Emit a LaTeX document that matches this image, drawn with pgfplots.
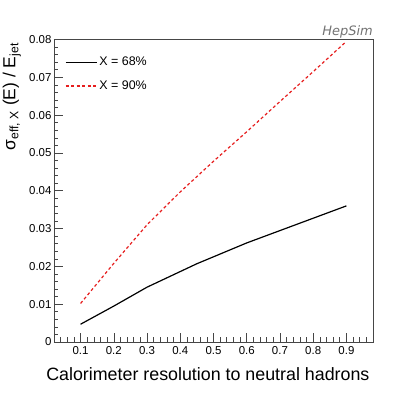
\documentclass[border=0pt]{standalone}
\usepackage{fontspec}
\setmainfont{Liberation Sans}
\newfontfamily\hepfont{DejaVu Sans}
\usepackage{pgfplots}
\pgfplotsset{compat=1.18}
\definecolor{rootred}{RGB}{230,30,30}
\definecolor{framegray}{RGB}{70,70,70}
\begin{document}
\begin{tikzpicture}
\useasboundingbox (-54bp,-51.3bp) rectangle (361bp,342bp);
\begin{axis}[
  scale only axis, width=319bp, height=302.5bp,
  at={(0,0)}, anchor=south west,
  xmin=0.02, xmax=0.98, ymin=0, ymax=0.08,
  clip=false,
  scaled y ticks=false, scaled x ticks=false,
  axis line style={framegray, line width=0.8pt},
  xtick={0.1,0.2,0.3,0.4,0.5,0.6,0.7,0.8,0.9},
  xticklabels={0.1,0.2,0.3,0.4,0.5,0.6,0.7,0.8,0.9},
  minor xtick={0.04,0.06,0.08,0.12,0.14,0.16,0.18,0.22,0.24,0.26,0.28,0.32,0.34,0.36,0.38,0.42,0.44,0.46,0.48,0.52,0.54,0.56,0.58,0.62,0.64,0.66,0.68,0.72,0.74,0.76,0.78,0.82,0.84,0.86,0.88,0.92,0.94,0.96},
  ytick={0,0.01,0.02,0.03,0.04,0.05,0.06,0.07,0.08},
  yticklabels={0,0.01,0.02,0.03,0.04,0.05,0.06,0.07,0.08},
  minor ytick={0.002,0.004,0.006,0.008,0.012,0.014,0.016,0.018,0.022,0.024,0.026,0.028,0.032,0.034,0.036,0.038,0.042,0.044,0.046,0.048,0.052,0.054,0.056,0.058,0.062,0.064,0.066,0.068,0.072,0.074,0.076,0.078},
  xtick pos=bottom, ytick pos=left,
  tick align=inside,
  major tick length=9bp, minor tick length=4.5bp,
  every tick/.style={framegray, line width=0.6pt},
  ticklabel style={font=\fontsize{11.5}{13}\selectfont},
  xticklabel style={yshift=-1bp},
  yticklabel style={xshift=1bp},
  /pgf/number format/assume math mode=true,
  legend style={draw=none, fill=none, at={(rel axis cs:0,1)}, anchor=north west,
    xshift=8bp, yshift=-13.5bp, font=\fontsize{12.5}{14}\selectfont, row sep=9.5bp},
  legend cell align=left,
  legend image code/.code={\draw[#1] (0bp,0bp) -- (25bp,0bp); \path (0bp,0bp) -- (31bp,0bp);},
]
\addplot[black, line width=1.2pt] coordinates {
  (0.1,0.0047) (0.2,0.0095) (0.3,0.0145) (0.45,0.0207) (0.6,0.0262) (0.75,0.0311) (0.9,0.0360)
};
\addlegendentry{X = 68\%}
\addplot[rootred, line width=1.2pt, dash pattern=on 3bp off 2.5bp] coordinates {
  (0.1,0.0102) (0.2,0.0208) (0.3,0.0310) (0.4,0.0397) (0.5,0.0478) (0.6,0.0556) (0.7,0.0636) (0.8,0.0715) (0.9,0.0795)
};
\addlegendentry{X = 90\%}
\node[anchor=base east, font=\fontsize{17.9}{20}\selectfont] at ([yshift=-38bp]rel axis cs:1,0) {Calorimeter resolution to neutral hadrons};
\node[anchor=base east, rotate=90, font=\fontsize{17.5}{20}\selectfont] at ([xshift=-38.5bp]rel axis cs:0,1) {σ\textsubscript{eff, X} (E) / E\textsubscript{jet}};
\node[anchor=base east, font=\hepfont\itshape\fontsize{13}{15}\selectfont, text=black!55, inner sep=0pt] at ([yshift=4.5bp]rel axis cs:1,1) {HepSim};
\end{axis}
\end{tikzpicture}
\end{document}
